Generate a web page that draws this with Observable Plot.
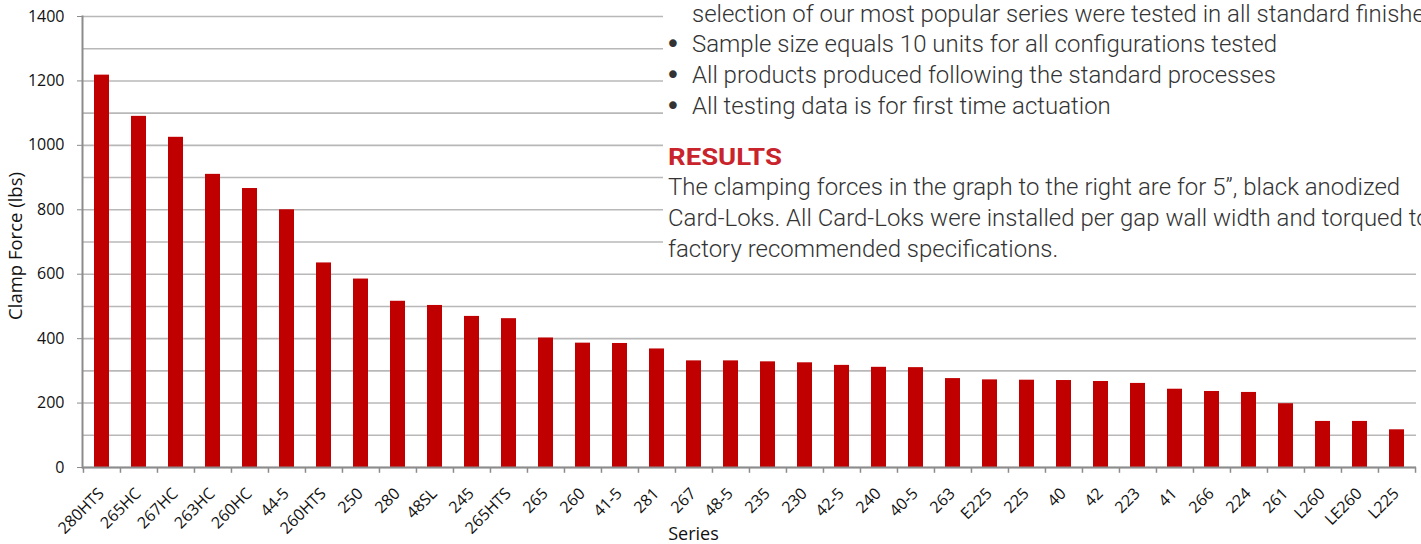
<!DOCTYPE html>
<html>
<head>
<meta charset="utf-8">
<script src="https://cdn.jsdelivr.net/npm/d3@7"></script>
<script src="https://cdn.jsdelivr.net/npm/@observablehq/plot@0.6"></script>
<style>
  html, body { margin: 0; padding: 0; background: #fff; }
  #chart { position: relative; width: 1421px; height: 544px; overflow: hidden; }
  #chart svg { display: block; }
</style>
</head>
<body>
<div id="chart"></div>
<script>
// ---- data ----
const series = ["280HTS","265HC","267HC","263HC","260HC","44-5","260HTS","250","280","48SL","245","265HTS","265","260","41-5","281","267","48-5","235","230","42-5","240","40-5","263","E225","225","40","42","223","41","266","224","261","L260","LE260","L225"];
const clampForce = [1218,1090,1025,910,866,800,635,585,516,503,469,462,402,386,385,368,331,331,328,325,317,311,310,276,272,271,270,267,261,243,236,233,198,143,143,117];
const yTickValues = [0,200,400,600,800,1000,1200,1400];
const gridValues = [0,100,200,300,400,500,600,700,800,900,1000,1100,1200,1300,1400];
const yTitle = "Clamp Force (lbs)";
const xTitle = "Series";
const introLines = [
  {bullet:false, text:"selection of our most popular series were tested in all standard finishes"},
  {bullet:true, text:"Sample size equals 10 units for all configurations tested"},
  {bullet:true, text:"All products produced following the standard processes"},
  {bullet:true, text:"All testing data is for first time actuation"}
];
const resultsHeading = "RESULTS";
const resultsLines = [
  "The clamping forces in the graph to the right are for 5\u201D, black anodized",
  "Card-Loks. All Card-Loks were installed per gap wall width and torqued to",
  "factory recommended specifications."
];

const data = series.map((s, i) => ({series: s, force: clampForce[i]}));

const W = 1421, H = 544, ML = 82, MR = 5, MT = 16, MB = 77;
const step = (W - ML - MR) / series.length;
const axisGray = "#8c8c8c";

const chart = Plot.plot({
  width: W, height: H,
  marginLeft: ML, marginRight: MR, marginTop: MT, marginBottom: MB,
  style: {fontFamily: "'Open Sans', sans-serif", fontSize: "15px", color: "#111", background: "#fff"},
  x: {domain: series, paddingInner: 0.6, paddingOuter: 0.3, axis: null},
  y: {domain: [0, 1400], axis: null},
  marks: [
    Plot.ruleY(gridValues, {stroke: "#b8b8b8", strokeWidth: 1.6}),
    Plot.barY(data, {x: "series", y: "force", fill: "#c00000"}),
    Plot.ruleY([0], {stroke: axisGray, strokeWidth: 2}),
    Plot.frame({anchor: "left", stroke: axisGray, strokeWidth: 2}),
    Plot.ruleX(series, {x: d => d, y1: 0, y2: -18, dx: -step / 2, stroke: axisGray, strokeWidth: 1.5}),
    Plot.ruleX(series.slice(-1), {x: d => d, y1: 0, y2: -18, dx: step / 2, stroke: axisGray, strokeWidth: 1.5}),
    Plot.axisY({ticks: yTickValues, tickSize: 5, tickPadding: 13, stroke: axisGray, fontSize: 16, label: null, tickFormat: d => String(d)}),
    Plot.text(series, {x: d => d, frameAnchor: "bottom", rotate: -45, textAnchor: "end", dy: 27, dx: 3, fontSize: 16, fill: "#111"}),
    Plot.text([yTitle], {frameAnchor: "left", textAnchor: "middle", rotate: -90, dx: -66, dy: 4, fontSize: 18.5, fill: "#111"}),
    Plot.text([xTitle], {frameAnchor: "bottom", textAnchor: "middle", dx: -56, dy: 72, fontSize: 18, fill: "#111"})
  ]
});
document.getElementById("chart").appendChild(chart);

// ---- text panel overlay (top right) ----
const ov = d3.select("#chart").append("svg")
  .attr("width", W).attr("height", H)
  .style("position", "absolute").style("left", "0px").style("top", "0px");
ov.append("rect").attr("x", 663).attr("y", 0).attr("width", W - 663).attr("height", 263).attr("fill", "#fff");

const fontFam = "Roboto, sans-serif";
const textColor = "#333";
function addLine(txt, x, y, size, weight, color) {
  return ov.append("text").attr("font-family", fontFam).attr("font-size", size)
    .attr("font-weight", weight).attr("fill", color).attr("transform", `translate(${x},${y})`).text(txt);
}
// measure scale from reference line width
const probe = addLine(introLines[1].text, 0, -100, 23, 300, textColor);
const kx = 585 / probe.node().getComputedTextLength();
probe.remove();
const probe2 = addLine(resultsHeading, 0, -100, 24, 700, "#c9232c");
const kh = 114 / probe2.node().getComputedTextLength();
probe2.remove();

const introBase = [22, 52, 83, 114];
introLines.forEach((l, i) => {
  if (l.bullet) ov.append("text").attr("x", 673).attr("y", introBase[i] + 1).attr("text-anchor", "middle")
    .attr("font-family", "'DejaVu Sans', sans-serif").attr("font-size", 26).attr("fill", textColor).text("\u2022");
  addLine(l.text, 692, introBase[i], 23, 300, textColor).attr("transform", `translate(692,${introBase[i]}) scale(${kx},1)`);
});
addLine(resultsHeading, 668, 165, 24, 700, "#c9232c").attr("transform", `translate(668,165) scale(${kh},1)`);
const resBase = [195, 226, 257];
resultsLines.forEach((t, i) => {
  addLine(t, 668, resBase[i], 23, 300, textColor).attr("transform", `translate(668,${resBase[i]}) scale(${kx},1)`);
});
</script>
</body>
</html>
